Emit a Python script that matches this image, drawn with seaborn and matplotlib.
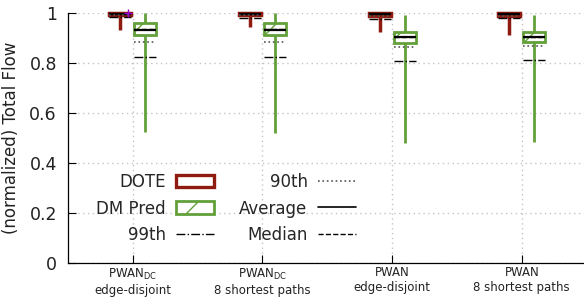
import numpy as np
import matplotlib
matplotlib.use("Agg")
import matplotlib.pyplot as plt
from matplotlib.patches import Patch
from matplotlib.lines import Line2D
import seaborn as sns

# categories on the x axis
categories = ["PWAN$_{\\mathrm{DC}}$\nedge-disjoint",
              "PWAN$_{\\mathrm{DC}}$\n8 shortest paths",
              "PWAN\nedge-disjoint",
              "PWAN\n8 shortest paths"]

# DOTE stats
dote_min = [0.930, 0.941, 0.923, 0.912]
dote_q1 = [0.990, 0.990, 0.988, 0.986]
dote_med = [0.996, 0.996, 0.995, 0.994]
dote_mean = [0.996, 0.996, 0.995, 0.994]
dote_q3 = [1.000, 1.000, 1.000, 1.000]
dote_max = [1.000, 1.000, 1.000, 1.000]
dote_p90 = [0.990, 0.990, 0.988, 0.986]
dote_p99 = [0.981, 0.979, 0.976, 0.979]

# DM Pred stats
dm_min = [0.521, 0.520, 0.481, 0.484]
dm_q1 = [0.909, 0.912, 0.879, 0.881]
dm_med = [0.934, 0.934, 0.902, 0.902]
dm_mean = [0.932, 0.932, 0.901, 0.901]
dm_q3 = [0.959, 0.959, 0.923, 0.923]
dm_max = [1.000, 0.999, 0.992, 0.992]
dm_p90 = [0.883, 0.883, 0.861, 0.865]
dm_p99 = [0.821, 0.821, 0.808, 0.812]

yticks = [0, 0.2, 0.4, 0.6, 0.8, 1.0]
ytick_labels = ["0", "0.2", "0.4", "0.6", "0.8", "1"]

dote_color = "#8f1a10"
dm_color = "#62a03a"

sns.set_theme(style="ticks")
plt.rcParams['font.family'] = ['DejaVu Sans']
plt.rcParams['hatch.linewidth'] = 1.0

fig = plt.figure(figsize=(5.84, 3.04), dpi=100)
ax = fig.add_axes([68/584, 41/304, 516/584, 250.5/304])

pos = np.arange(len(categories))
w = 0.17
off = 0.096


def make_stats(lo, q1, med, mean, q3, hi):
    return [dict(whislo=a, q1=b, med=c, mean=d, q3=e, whishi=f, fliers=[])
            for a, b, c, d, e, f in zip(lo, q1, med, mean, q3, hi)]


def draw(stats, x, color, lw, hatch):
    arts = ax.bxp(stats, positions=x, widths=w, patch_artist=True,
                  showmeans=True, meanline=True, showcaps=False, showfliers=False,
                  boxprops=dict(facecolor="white", edgecolor=color, linewidth=lw, hatch=hatch),
                  whiskerprops=dict(color=color, linewidth=lw, solid_capstyle="butt"),
                  medianprops=dict(color="black", linestyle="--", linewidth=1.0),
                  meanprops=dict(color="black", linestyle="-", linewidth=1.6),
                  manage_ticks=False, zorder=3)
    for group in arts.values():
        for a in group:
            a.set_clip_on(False)


draw(make_stats(dote_min, dote_q1, dote_med, dote_mean, dote_q3, dote_max),
     pos - off, dote_color, 2.5, None)
draw(make_stats(dm_min, dm_q1, dm_med, dm_mean, dm_q3, dm_max),
     pos + off, dm_color, 2.0, "/")

# percentile markers
for x0, p90, p99 in [(pos - off, dote_p90, dote_p99), (pos + off, dm_p90, dm_p99)]:
    ax.hlines(p90, x0 - w / 2, x0 + w / 2, colors="#555555", linestyles=":", linewidth=1.2, zorder=4)
    ax.hlines(p99, x0 - w / 2, x0 + w / 2, colors="black", linestyles="-.", linewidth=1.0, zorder=4)

ax.plot([-0.04], [1.0], marker="+", color="#9400d3", markersize=6, linestyle="none",
        clip_on=False, zorder=5)

ax.set_xlim(-0.5, 3.48)
ax.set_ylim(0, 1)
ax.set_xticks(pos)
ax.set_xticklabels(categories, fontsize=8.5, color="#222222")
ax.set_yticks(yticks)
ax.set_yticklabels(ytick_labels, fontsize=12.5, color="#222222")
ax.set_ylabel("(normalized) Total Flow", fontsize=12, color="#222222", labelpad=7)
ax.tick_params(direction="in", length=6, width=0.8, color="black")
ax.tick_params(axis="y", pad=8)
ax.tick_params(axis="x", pad=2.5)
ax.grid(True, linestyle=(0, (1, 2.5)), color="#c4c4c4", linewidth=1.0)
ax.set_axisbelow(True)
sns.despine(ax=ax)
for s in ["left", "bottom"]:
    ax.spines[s].set_color("black")
    ax.spines[s].set_linewidth(0.9)

handles = [
    Patch(facecolor="white", edgecolor=dote_color, linewidth=2.4, label="DOTE"),
    Patch(facecolor="white", edgecolor=dm_color, linewidth=2.0, hatch="/", label="DM Pred"),
    Line2D([], [], color="black", linestyle="-.", linewidth=1.0, label="99th"),
    Line2D([], [], color="#555555", linestyle=":", linewidth=1.2, label="90th"),
    Line2D([], [], color="black", linestyle="-", linewidth=1.2, label="Average"),
    Line2D([], [], color="black", linestyle="--", linewidth=1.0, label="Median"),
]
ax.legend(handles=handles, ncol=2, markerfirst=False, frameon=False, fontsize=12,
          loc="lower left", bbox_to_anchor=(0.026, 0.015), handlelength=2.3,
          handleheight=0.8, handletextpad=0.6, columnspacing=1.5, labelspacing=0.52,
          borderpad=0.4)

fig.savefig("out.png", dpi=100)
